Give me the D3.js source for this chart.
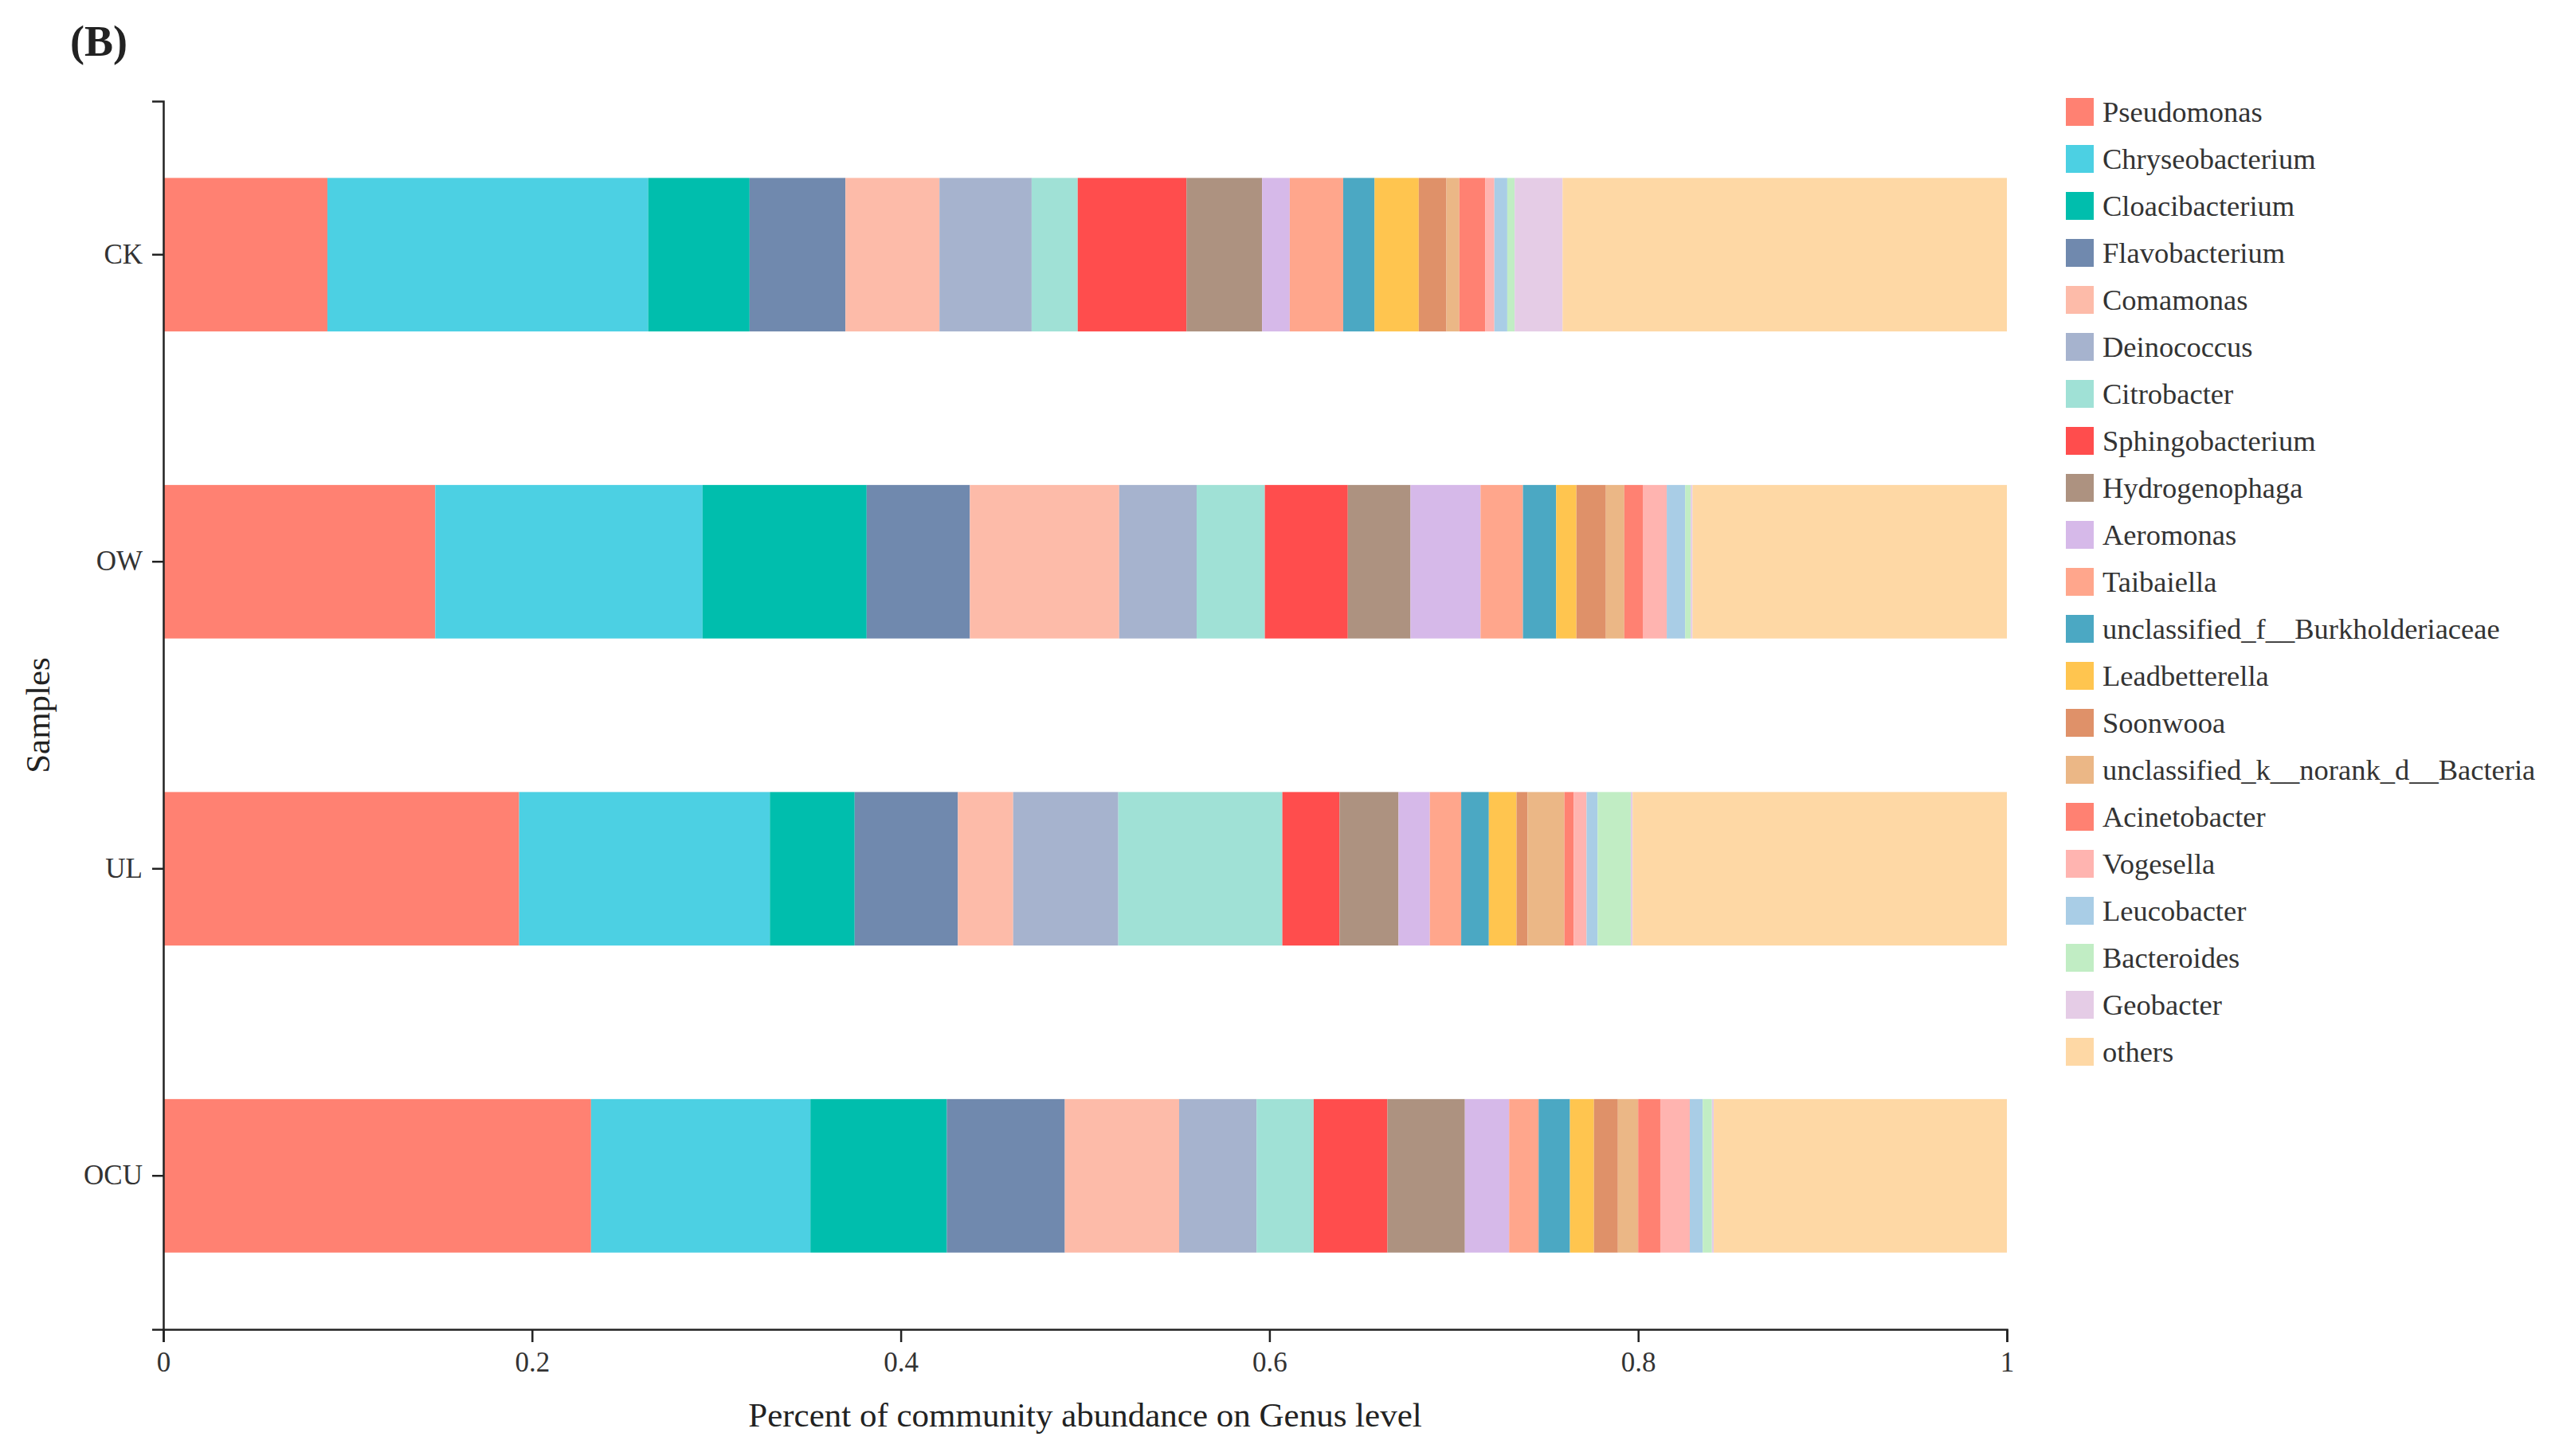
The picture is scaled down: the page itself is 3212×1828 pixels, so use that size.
<!DOCTYPE html>
<html>
<head>
<meta charset="utf-8">
<script src="https://cdn.jsdelivr.net/npm/d3@7"></script>
<style>
  body { margin: 0; background: #fff; }
  .axis text { font-family: "Liberation Serif", serif; fill: #333; }
  .axis path, .axis line { stroke: #222; stroke-width: 2.5; }
</style>
</head>
<body>
<div id="chart"></div>
<script>
var samples = ["CK", "OW", "UL", "OCU"];
var genera = [
  "Pseudomonas", "Chryseobacterium", "Cloacibacterium", "Flavobacterium",
  "Comamonas", "Deinococcus", "Citrobacter", "Sphingobacterium",
  "Hydrogenophaga", "Aeromonas", "Taibaiella", "unclassified_f__Burkholderiaceae",
  "Leadbetterella", "Soonwooa", "unclassified_k__norank_d__Bacteria",
  "Acinetobacter", "Vogesella", "Leucobacter", "Bacteroides", "Geobacter", "others"
];
var ck = [0.089, 0.174, 0.055, 0.052, 0.051, 0.050, 0.025, 0.059, 0.041, 0.015, 0.029,
  0.017, 0.024, 0.015, 0.007, 0.014, 0.005, 0.007, 0.004, 0.026, 0.241];
var ow = [0.1475, 0.145, 0.089, 0.056, 0.081, 0.042, 0.037, 0.045, 0.034, 0.038, 0.023,
  0.018, 0.011, 0.016, 0.010, 0.010, 0.013, 0.010, 0.003, 0.001, 0.1705];
var ul = [0.193, 0.136, 0.046, 0.056, 0.030, 0.057, 0.089, 0.031, 0.032, 0.017, 0.017,
  0.015, 0.015, 0.006, 0.020, 0.005, 0.007, 0.006, 0.018, 0.001, 0.203];
var ocu = [0.232, 0.119, 0.074, 0.064, 0.062, 0.042, 0.031, 0.040, 0.042, 0.024, 0.016,
  0.017, 0.013, 0.013, 0.011, 0.012, 0.016, 0.007, 0.005, 0.001, 0.159];
var xTicks = [0, 0.2, 0.4, 0.6, 0.8, 1];

var palette = [
  "#FF8172", "#4CD0E3", "#00BEAD", "#7089AE", "#FDBBA9", "#A6B3CE", "#A0E1D6",
  "#FF4D4D", "#AD9280", "#D6B9E9", "#FFA68C", "#4BA8C3", "#FFC54F", "#DF9169",
  "#EBB786", "#FF8172", "#FFB4B0", "#A9CDE6", "#C1EDC4", "#E5CCE6", "#FED8A5"
];

var values = [ck, ow, ul, ocu];
var rows = samples.map(function (s, i) {
  var r = { sample: s };
  genera.forEach(function (g, j) { r[g] = values[i][j]; });
  return r;
});

var W = 3212, H = 1828;
var plotLeft = 205, plotRight = 2519, plotTop = 127, plotBottom = 1669;

var svg = d3.select("#chart")
  .append("svg")
  .attr("width", W)
  .attr("height", H)
  .style("background", "#fff");

var x = d3.scaleLinear().domain([0, 1]).range([plotLeft, plotRight]);
var y = d3.scaleBand().domain(samples).range([plotTop, plotBottom])
  .paddingInner(0.5).paddingOuter(0.25);
var color = d3.scaleOrdinal().domain(genera).range(palette);

var series = d3.stack().keys(genera)(rows);

svg.append("g")
  .selectAll("g")
  .data(series)
  .enter()
  .append("g")
  .attr("fill", function (d) { return color(d.key); })
  .selectAll("rect")
  .data(function (d) { return d; })
  .enter()
  .append("rect")
  .attr("x", function (d) { return x(d[0]); })
  .attr("width", function (d) { return Math.max(0, x(d[1]) - x(d[0])); })
  .attr("y", function (d) { return y(d.data.sample); })
  .attr("height", y.bandwidth());

// axes
svg.append("g")
  .attr("class", "axis")
  .attr("transform", "translate(" + plotLeft + ",0)")
  .call(d3.axisLeft(y).tickSize(14).tickPadding(12))
  .call(function (g) { g.selectAll("text").style("font-size", "35px"); });

svg.append("g")
  .attr("class", "axis")
  .attr("transform", "translate(0," + plotBottom + ")")
  .call(d3.axisBottom(x).tickValues(xTicks).tickFormat(d3.format("~g"))
    .tickSize(16).tickPadding(12))
  .call(function (g) { g.selectAll("text").style("font-size", "35px"); });

svg.append("text")
  .attr("x", (plotLeft + plotRight) / 2)
  .attr("y", 1791)
  .attr("text-anchor", "middle")
  .style("font-family", "Liberation Serif, serif")
  .style("font-size", "43px")
  .style("fill", "#222")
  .text("Percent of community abundance on Genus level");

svg.append("text")
  .attr("transform", "translate(62," + (plotTop + plotBottom) / 2 + ") rotate(-90)")
  .attr("text-anchor", "middle")
  .style("font-family", "Liberation Serif, serif")
  .style("font-size", "43px")
  .style("fill", "#222")
  .text("Samples");

svg.append("text")
  .attr("x", 88)
  .attr("y", 70)
  .style("font-family", "Liberation Serif, serif")
  .style("font-size", "54px")
  .style("font-weight", "bold")
  .style("fill", "#222")
  .text("(B)");

// legend
var legend = svg.append("g")
  .selectAll("g")
  .data(genera)
  .enter()
  .append("g")
  .attr("transform", function (d, i) { return "translate(2593," + (140 + i * 59.0) + ")"; });

legend.append("rect")
  .attr("x", 0)
  .attr("y", -17)
  .attr("width", 35)
  .attr("height", 35)
  .attr("fill", function (d) { return color(d); });

legend.append("text")
  .attr("x", 46)
  .attr("y", 0)
  .attr("dy", "0.35em")
  .style("font-family", "Liberation Serif, serif")
  .style("font-size", "36.5px")
  .style("fill", "#333")
  .text(function (d) { return d; });
</script>
</body>
</html>
